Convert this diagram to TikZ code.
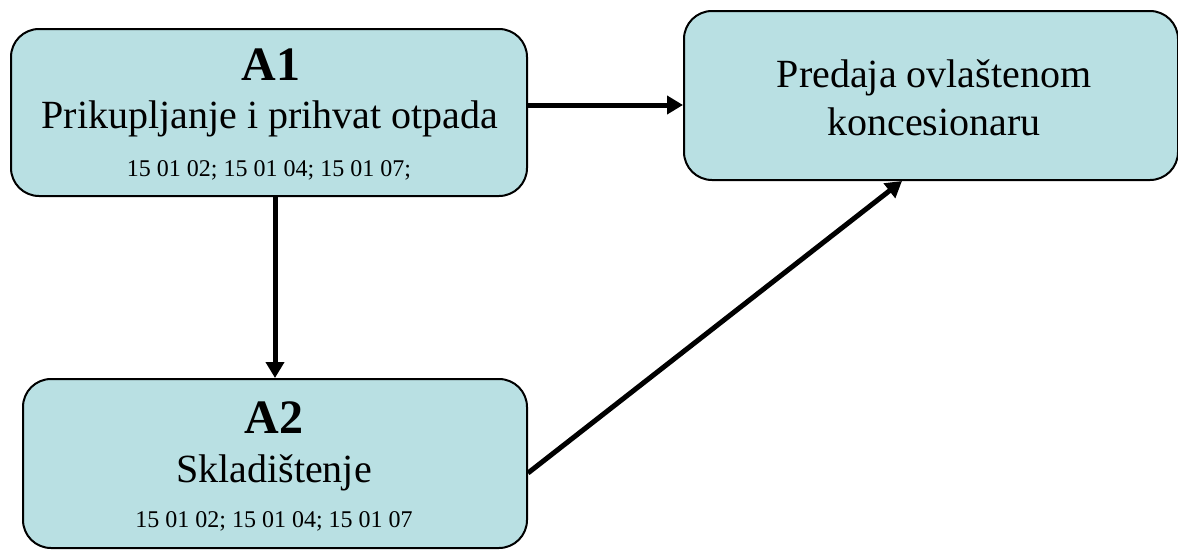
\documentclass[tikz,border=0pt]{standalone}
\usepackage{fontspec}
\setmainfont{Liberation Serif}
\usetikzlibrary{arrows.meta}
\definecolor{boxfill}{RGB}{185,224,227}
\tikzset{
  box/.style={draw=black, line width=2pt, fill=boxfill, rounded corners=28pt, inner sep=0pt, anchor=north west},
  lbl/.style={anchor=base, inner sep=0pt, font=\fontsize{40}{48}\selectfont},
  ttl/.style={anchor=base, inner sep=0pt, font=\fontsize{48}{56}\selectfont\bfseries},
  code/.style={anchor=base, inner sep=0pt, font=\fontsize{24}{28}\selectfont},
  arr/.style={line width=5pt, -{Triangle[length=16pt,width=18pt]}}
}
\begin{document}
\begin{tikzpicture}[x=1pt,y=-1pt]
\useasboundingbox (0,0) rectangle (1178,549);
% boxes
\node[box, minimum width=516pt, minimum height=167pt] (a1) at (10,28) {};
\node[box, minimum width=494pt, minimum height=169pt] (pk) at (683,10) {};
\node[box, minimum width=504pt, minimum height=169pt] (a2) at (22,378) {};
% texts
\node[ttl] (a1t) at (271,80) {A1};
\node[lbl] (a1n) at (270,128) {Prikupljanje i prihvat otpada};
\node[code] (a1c) at (269,176) {15 01 02; 15 01 04; 15 01 07;};
\node[lbl] (pk1) at (934,87) {Predaja ovlaštenom};
\node[lbl] (pk2) at (934,135) {koncesionaru};
\node[ttl] (a2t) at (274,433) {A2};
\node[lbl] (a2n) at (274,482) {Skladištenje};
\node[code] (a2c) at (274,527) {15 01 02; 15 01 04; 15 01 07};
% connectors
\draw[arr] (a1.east |- 0,105) -- (pk.west |- 0,105);
\draw[arr] (a2.north |- a1.south) -- (a2.north);
\draw[arr] (a2.east |- 0,473) -- (pk.south -| 902,0);
\end{tikzpicture}
\end{document}
